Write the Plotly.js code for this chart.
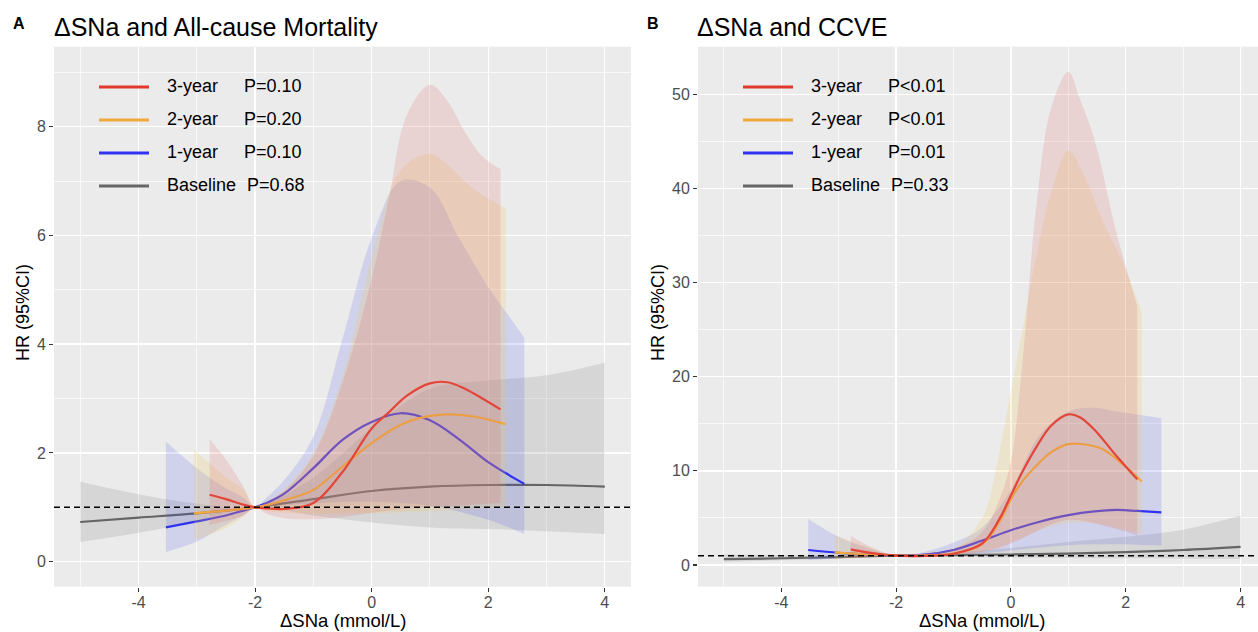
<!DOCTYPE html>
<html>
<head>
<meta charset="utf-8">
<script src="https://cdn.plot.ly/plotly-3.0.1.min.js"></script>
<style>html,body{margin:0;padding:0;background:#fff;}#chart{width:1258px;height:632px;}</style>
</head>
<body>
<div id="chart"></div>
<script>
// ---------- tick labels ----------
const xTickVals = [-4, -2, 0, 2, 4];
const xTickText = ['-4', '-2', '0', '2', '4'];
const xMinorVals = [-5, -3, -1, 1, 3];
const yTickValsA = [0, 2, 4, 6, 8];
const yTickTextA = ['0', '2', '4', '6', '8'];
const yMinorValsA = [1, 3, 5, 7, 9];
const yTickValsB = [0, 10, 20, 30, 40, 50];
const yTickTextB = ['0', '10', '20', '30', '40', '50'];
const yMinorValsB = [5, 15, 25, 35, 45, 55];

// ---------- legend text ----------
const legendLabels = ['3-year', '2-year', '1-year', 'Baseline'];
const legendPA = ['P=0.10', 'P=0.20', 'P=0.10', 'P=0.68'];
const legendPB = ['P<0.01', 'P<0.01', 'P=0.01', 'P=0.33'];
const titleA = 'ΔSNa and All-cause Mortality';
const titleB = 'ΔSNa and CCVE';
const xTitle = 'ΔSNa (mmol/L)';
const yTitle = 'HR (95%CI)';

// ---------- Panel A : All-cause mortality ----------
const aBaseX   = [-5, -4, -3, -2, -1, 0, 1, 2, 3, 4];
const aBaseEst = [0.73, 0.81, 0.89, 1.0, 1.15, 1.30, 1.38, 1.41, 1.41, 1.38];
const aBaseLo  = [0.36, 0.53, 0.75, 1.0, 0.85, 0.72, 0.63, 0.60, 0.56, 0.51];
const aBaseHi  = [1.47, 1.24, 1.07, 1.0, 1.55, 2.45, 3.18, 3.33, 3.43, 3.66];

const a1X   = [-3.53, -3.0, -2.5, -2.2, -2.0, -1.8, -1.5, -1.0, -0.5, 0.0, 0.5, 1.0, 1.5, 2.0, 2.3, 2.62];
const a1Est = [0.63, 0.74, 0.85, 0.94, 1.0, 1.08, 1.25, 1.72, 2.24, 2.57, 2.73, 2.60, 2.25, 1.83, 1.63, 1.43];
const a1Lo  = [0.18, 0.37, 0.68, 0.86, 1.0, 1.02, 1.04, 1.07, 1.10, 1.10, 1.08, 1.03, 0.92, 0.77, 0.65, 0.51];
const a1Hi  = [2.21, 1.72, 1.35, 1.18, 1.0, 1.18, 1.50, 2.30, 4.10, 5.95, 7.00, 6.88, 5.95, 5.05, 4.60, 4.12];

const a2X   = [-3.05, -2.5, -2.2, -2.0, -1.8, -1.5, -1.0, -0.5, 0.0, 0.5, 1.0, 1.3, 1.75, 2.3];
const a2Est = [0.89, 0.94, 0.97, 1.0, 1.04, 1.13, 1.32, 1.75, 2.18, 2.52, 2.68, 2.71, 2.67, 2.53];
const a2Lo  = [0.40, 0.62, 0.82, 1.0, 0.93, 0.90, 0.88, 0.88, 0.89, 0.91, 0.93, 0.95, 0.97, 1.00];
const a2Hi  = [2.07, 1.55, 1.32, 1.0, 1.10, 1.33, 2.00, 3.40, 5.60, 7.20, 7.50, 7.30, 6.85, 6.50];

const a3X   = [-2.78, -2.5, -2.2, -2.0, -1.8, -1.5, -1.0, -0.5, 0.0, 0.3, 0.6, 1.0, 1.3, 1.6, 1.9, 2.21];
const a3Est = [1.23, 1.15, 1.05, 1.0, 0.98, 0.97, 1.08, 1.65, 2.45, 2.75, 3.05, 3.28, 3.30, 3.18, 3.00, 2.80];
const a3Lo  = [0.68, 0.75, 0.85, 1.0, 0.88, 0.80, 0.78, 0.82, 0.90, 0.94, 0.97, 1.00, 1.02, 1.04, 1.06, 1.08];
const a3Hi  = [2.25, 1.88, 1.38, 1.0, 1.10, 1.30, 1.95, 3.30, 5.20, 6.70, 8.20, 8.77, 8.47, 7.90, 7.45, 7.22];

// ---------- Panel B : CCVE ----------
const bBaseX   = [-5, -4, -3, -2, -1, 0, 1, 2, 3, 4];
const bBaseEst = [0.62, 0.72, 0.85, 1.0, 1.05, 1.12, 1.22, 1.38, 1.60, 1.93];
const bBaseLo  = [0.35, 0.50, 0.70, 1.0, 0.87, 0.80, 0.76, 0.73, 0.70, 0.64];
const bBaseHi  = [1.15, 1.05, 1.02, 1.0, 1.30, 1.80, 2.45, 3.00, 3.75, 5.25];

const b1X   = [-3.53, -3.0, -2.5, -2.0, -1.5, -1.0, -0.5, 0.0, 0.5, 1.0, 1.45, 1.85, 2.2, 2.62];
const b1Est = [1.6, 1.3, 1.12, 1.0, 1.1, 1.6, 2.6, 3.7, 4.6, 5.3, 5.7, 5.85, 5.75, 5.6];
const b1Lo  = [0.53, 0.72, 0.85, 1.0, 1.0, 1.05, 1.25, 1.55, 1.85, 2.1, 2.2, 2.2, 2.15, 2.06];
const b1Hi  = [4.9, 3.0, 1.8, 1.0, 1.4, 2.4, 4.0, 8.0, 13.8, 16.3, 16.7, 16.3, 16.0, 15.6];

const b2X   = [-3.07, -2.5, -2.0, -1.5, -1.0, -0.5, -0.2, 0.0, 0.2, 0.45, 0.7, 1.0, 1.3, 1.6, 1.95, 2.28];
const b2Est = [1.35, 1.12, 1.0, 1.03, 1.22, 2.2, 4.6, 7.0, 8.9, 10.6, 12.0, 12.85, 12.8, 12.3, 10.7, 8.87];
const b2Lo  = [0.60, 0.80, 1.0, 1.0, 1.08, 1.45, 1.9, 2.4, 2.9, 3.6, 4.1, 4.5, 4.5, 4.3, 3.8, 3.3];
const b2Hi  = [3.2, 1.95, 1.0, 1.25, 1.8, 5.0, 12.0, 18.5, 25.0, 33.0, 39.5, 44.0, 41.0, 36.5, 32.1, 26.8];

const b3X   = [-2.79, -2.5, -2.0, -1.5, -1.0, -0.5, -0.2, 0.0, 0.2, 0.45, 0.7, 1.0, 1.2, 1.45, 1.85, 2.2];
const b3Est = [1.67, 1.35, 1.0, 0.98, 1.2, 2.3, 4.9, 7.4, 9.9, 12.6, 14.8, 16.0, 15.7, 14.4, 11.5, 9.1];
const b3Lo  = [0.71, 0.82, 1.0, 1.0, 1.08, 1.4, 1.85, 2.3, 2.85, 3.6, 4.3, 4.8, 4.75, 4.45, 3.8, 3.15];
const b3Hi  = [3.1, 2.1, 1.0, 1.2, 1.7, 3.5, 7.0, 11.0, 21.5, 38.5, 48.5, 52.4, 49.5, 45.3, 35.0, 27.5];

// ---------- styling ----------
const W = 1258, H = 632;
const px = v => v / W;
const py = v => 1 - v / H;
const FONT = 'Liberation Sans, Arial, Helvetica, sans-serif';
const colRed = '#E53B2C', colOrange = '#F0A43A', colBlue = '#2B2BF2', colGray = '#5E5E5E';
const fillRed = 'rgba(220,110,110,0.20)';
const fillOrange = 'rgba(245,195,75,0.19)';
const fillBlue = 'rgba(70,80,235,0.16)';
const fillGray = 'rgba(128,128,128,0.20)';
const legendLineCols = ['#E0392A', '#F0AA3C', '#3232F0', '#666666'];

const traces = [];
function addSeries(xs, est, lo, hi, lineCol, fillCol, xa, ya) {
  traces.push({x: xs, y: est, type: 'scatter', mode: 'lines', xaxis: xa, yaxis: ya,
    line: {color: lineCol, width: 2.2, shape: 'spline', smoothing: 1}, hoverinfo: 'skip', showlegend: false});
  traces.push({x: xs, y: lo, type: 'scatter', mode: 'lines', xaxis: xa, yaxis: ya,
    line: {color: fillCol, width: 0, shape: 'spline', smoothing: 1}, hoverinfo: 'skip', showlegend: false});
  traces.push({x: xs, y: hi, type: 'scatter', mode: 'lines', xaxis: xa, yaxis: ya, fill: 'tonexty', fillcolor: fillCol,
    line: {color: fillCol, width: 0, shape: 'spline', smoothing: 1}, hoverinfo: 'skip', showlegend: false});
}
addSeries(aBaseX, aBaseEst, aBaseLo, aBaseHi, colGray, fillGray, 'x', 'y');
addSeries(a1X, a1Est, a1Lo, a1Hi, colBlue, fillBlue, 'x', 'y');
addSeries(a2X, a2Est, a2Lo, a2Hi, colOrange, fillOrange, 'x', 'y');
addSeries(a3X, a3Est, a3Lo, a3Hi, colRed, fillRed, 'x', 'y');
addSeries(bBaseX, bBaseEst, bBaseLo, bBaseHi, colGray, fillGray, 'x2', 'y2');
addSeries(b1X, b1Est, b1Lo, b1Hi, colBlue, fillBlue, 'x2', 'y2');
addSeries(b2X, b2Est, b2Lo, b2Hi, colOrange, fillOrange, 'x2', 'y2');
addSeries(b3X, b3Est, b3Lo, b3Hi, colRed, fillRed, 'x2', 'y2');

const yDom = [(H - 586.7) / H, (H - 46.7) / H];
function xAxis(domain, range) {
  return {domain: domain, range: range, tickmode: 'array', tickvals: xTickVals, ticktext: xTickText,
    ticks: 'outside', ticklen: 4, tickwidth: 1.1, tickcolor: '#333333', ticklabelstandoff: -3,
    tickfont: {family: FONT, size: 16, color: '#4D4D4D'},
    showgrid: true, gridcolor: '#FFFFFF', gridwidth: 1.4, zeroline: false, showline: false,
    minor: {tickvals: xMinorVals, showgrid: true, gridcolor: '#FFFFFF', gridwidth: 0.7},
    fixedrange: true};
}
function yAxis(range, vals, text, minorVals, anchor) {
  return {domain: yDom, range: range, anchor: anchor, tickmode: 'array', tickvals: vals, ticktext: text,
    ticks: 'outside', ticklen: 4, tickwidth: 1.1, tickcolor: '#333333',
    tickfont: {family: FONT, size: 16, color: '#4D4D4D'},
    showgrid: true, gridcolor: '#FFFFFF', gridwidth: 1.4, zeroline: false, showline: false,
    minor: {tickvals: minorVals, showgrid: true, gridcolor: '#FFFFFF', gridwidth: 0.7},
    fixedrange: true};
}

const xa = xAxis([px(54), px(631)], [-5.45, 4.45]);
xa.anchor = 'y';
const xb = xAxis([px(698), 1], [-5.45, 4.303]);
xb.anchor = 'y2';

const shapes = [
  {type: 'line', xref: 'x domain', yref: 'y', x0: 0, x1: 1, y0: 1, y1: 1, line: {color: '#000000', width: 1.5, dash: '6px,4px'}},
  {type: 'line', xref: 'x2 domain', yref: 'y2', x0: 0, x1: 1, y0: 1, y1: 1, line: {color: '#000000', width: 1.5, dash: '6px,4px'}}
];
const annotations = [];
const esc = s => s.replace(/</g, '&lt;');
const rowsY = [87, 120, 153, 186];
function addLegend(x0, pTexts) {
  for (let i = 0; i < 4; i++) {
    shapes.push({type: 'line', xref: 'paper', yref: 'paper', x0: px(x0), x1: px(x0 + 50), y0: py(rowsY[i]), y1: py(rowsY[i]),
      line: {color: legendLineCols[i], width: 3.2}});
    annotations.push({xref: 'paper', yref: 'paper', x: px(x0 + 66), y: py(rowsY[i] - 1), xanchor: 'left', yanchor: 'middle',
      text: legendLabels[i], showarrow: false, font: {family: FONT, size: 18, color: '#000'}});
    annotations.push({xref: 'paper', yref: 'paper', x: px(x0 + (i === 3 ? 146 : 143)), y: py(rowsY[i] - 1), xanchor: 'left', yanchor: 'middle',
      text: esc(pTexts[i]), showarrow: false, font: {family: FONT, size: 18, color: '#000'}});
  }
}
addLegend(99, legendPA);
addLegend(743, legendPB);

function addTitles(letter, letterX, titleX, titleText, panelCenter, yTitleX) {
  annotations.push({xref: 'paper', yref: 'paper', x: px(letterX), y: py(23.5), xanchor: 'left', yanchor: 'middle',
    text: '<b>' + letter + '</b>', showarrow: false, font: {family: FONT, size: 16, color: '#000'}});
  annotations.push({xref: 'paper', yref: 'paper', x: px(titleX), y: py(27), xanchor: 'left', yanchor: 'middle',
    text: titleText, showarrow: false, font: {family: FONT, size: 25, color: '#000'}});
  annotations.push({xref: 'paper', yref: 'paper', x: px(panelCenter), y: 0, xanchor: 'center', yanchor: 'bottom', borderpad: 0,
    text: xTitle, showarrow: false, font: {family: FONT, size: 18.5, color: '#000'}});
  annotations.push({xref: 'paper', yref: 'paper', x: px(yTitleX), y: py(313), xanchor: 'center', yanchor: 'middle', textangle: -90,
    text: yTitle, showarrow: false, font: {family: FONT, size: 18, color: '#000'}});
}
addTitles('A', 11, 52, titleA, 342.5, 23);
addTitles('B', 645, 695, titleB, 982, 658);

const layout = {
  width: W, height: H, margin: {l: 0, r: 0, t: 0, b: 0},
  paper_bgcolor: '#FFFFFF', plot_bgcolor: '#EBEBEB', showlegend: false,
  font: {family: FONT},
  xaxis: xa, yaxis: yAxis([-0.46, 9.47], yTickValsA, yTickTextA, yMinorValsA, 'x'),
  xaxis2: xb, yaxis2: yAxis([-2.3, 55.05], yTickValsB, yTickTextB, yMinorValsB, 'x2'),
  shapes: shapes, annotations: annotations
};
Plotly.newPlot('chart', traces, layout, {displayModeBar: false, staticPlot: true});
</script>
</body>
</html>
